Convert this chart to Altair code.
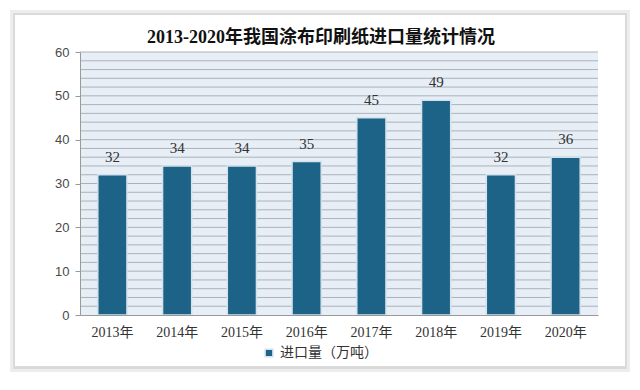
import altair as alt
import pandas as pd

years = ["2013年", "2014年", "2015年", "2016年", "2017年", "2018年", "2019年", "2020年"]
imports = [32, 34, 34, 35, 45, 49, 32, 36]
series_name = "进口量（万吨）"
title_text = "2013-2020年我国涂布印刷纸进口量统计情况"
y_ticks = [0, 10, 20, 30, 40, 50, 60]
grid_values = list(range(2, 61, 2))

W, H = 518, 263
df = pd.DataFrame({"year": years, "value": imports, "series": [series_name] * len(years)})
one = pd.DataFrame({"t": [title_text]})
grid_df = pd.DataFrame({"g": grid_values})

yscale = alt.Scale(domain=[0, 60], nice=False, zero=True)
xscale = alt.Scale(paddingInner=0.55, paddingOuter=0.275)
yaxis = alt.Axis(values=y_ticks, grid=False, labelFont="Liberation Sans",
                 labelFontSize=13, labelColor="#4a4a4a", tickColor="#9a9a9a",
                 tickSize=5, labelPadding=6, domainColor="#9a9a9a", zindex=1)

shadow2 = alt.Chart(one).mark_rect(color="#ededed").encode(
    x=alt.value(-70), x2=alt.value(550), y=alt.value(-42), y2=alt.value(320))
shadow1 = alt.Chart(one).mark_rect(color="#dadada").encode(
    x=alt.value(-67), x2=alt.value(547), y=alt.value(-39), y2=alt.value(317))
card = alt.Chart(one).mark_rect(color="white").encode(
    x=alt.value(-65), x2=alt.value(545), y=alt.value(-37), y2=alt.value(314))
plotbg = alt.Chart(one).mark_rect(color="#e7eef6").encode(
    x=alt.value(0), x2=alt.value(W), y=alt.value(0), y2=alt.value(H))
title = alt.Chart(one).mark_text(font="Liberation Serif, Noto Sans CJK SC", fontSize=18,
                                 fontWeight="bold", color="#111", align="center",
                                 baseline="middle").encode(
    x=alt.value(241), y=alt.value(-14), text="t:N")

grid = alt.Chart(grid_df).mark_rule(color="#aab2ba", strokeWidth=1).encode(
    y=alt.Y("g:Q", scale=yscale, axis=yaxis, title=None))

bars = alt.Chart(df).mark_bar(stroke="#d3e2ec", strokeWidth=1.5).encode(
    x=alt.X("year:N", sort=years, scale=xscale, title=None,
            axis=alt.Axis(labelAngle=0, labelFont="Liberation Serif, Noto Sans CJK SC",
                          labelFontSize=14, labelColor="#333", ticks=False,
                          labelPadding=10, domainColor="#9a9a9a", zindex=1)),
    y=alt.Y("value:Q", scale=yscale, title=None, axis=yaxis),
    color=alt.Color("series:N", scale=alt.Scale(range=["#1d6387"]), title=None,
                    legend=alt.Legend(orient="none", legendX=182, legendY=294,
                                      symbolType="square", symbolSize=60,
                                      labelFont="Noto Sans CJK SC", labelFontSize=14,
                                      labelColor="#333", zindex=1)),
)

labels = alt.Chart(df).mark_text(dy=-10, baseline="bottom", font="Liberation Serif",
                                 fontSize=15, color="#333").encode(
    x=alt.X("year:N", sort=years, scale=xscale),
    y=alt.Y("value:Q", scale=yscale),
    text="value:Q")

chart = alt.layer(shadow2, shadow1, card, plotbg, title, grid, bars, labels).properties(
    width=W, height=H,
    autosize=alt.AutoSizeParams(type="none"),
    padding={"left": 72, "top": 44, "right": 34, "bottom": 60},
    background="white",
).configure_view(stroke=None)

chart.save("out.html", embed_options={"renderer": "svg", "actions": False})
